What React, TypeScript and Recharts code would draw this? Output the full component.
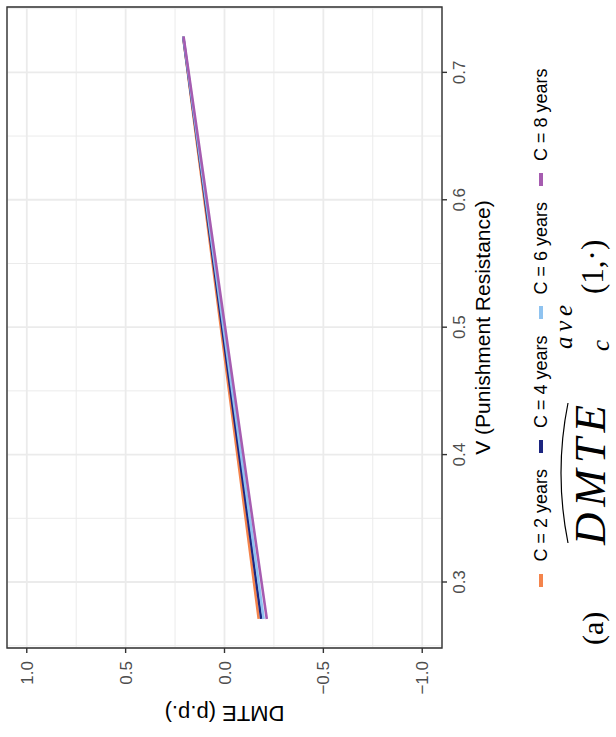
import { LineChart, Line, XAxis, YAxis, CartesianGrid, ReferenceArea } from "recharts";

// values (the figure is printed rotated 90° counter-clockwise)
const V = [0.271, 0.35, 0.45, 0.55, 0.65, 0.728];
const C2 = [-0.173, -0.107, -0.023, 0.06, 0.144, 0.209];
const C4 = [-0.186, -0.118, -0.031, 0.055, 0.141, 0.209];
const C6 = [-0.198, -0.128, -0.039, 0.05, 0.139, 0.208];
const C8 = [-0.214, -0.141, -0.049, 0.043, 0.135, 0.207];

const X_TICKS = [0.3, 0.4, 0.5, 0.6, 0.7];
const X_MINOR = [0.25, 0.35, 0.45, 0.55, 0.65, 0.75];
const Y_TICKS = [-1, -0.5, 0, 0.5, 1];
const Y_MINOR = [-0.75, -0.25, 0.25, 0.75];
const X_DOMAIN: [number, number] = [0.2482, 0.7513];
const Y_DOMAIN: [number, number] = [-1.1, 1.1];

const SERIES = [
  { key: "c2", name: "C = 2 years", color: "#f4844c" },
  { key: "c4", name: "C = 4 years", color: "#1c2580" },
  { key: "c6", name: "C = 6 years", color: "#8fc3f0" },
  { key: "c8", name: "C = 8 years", color: "#a65cb0" },
];

const data = V.map((v, i) => ({ v, c2: C2[i], c4: C4[i], c6: C6[i], c8: C8[i] }));

const W = 737;
const H = 616;
const SANS = '"Liberation Sans", Arial, sans-serif';
const SERIF = '"Liberation Serif", "DejaVu Serif", serif';
const fmt = (v: number) => (v < 0 ? "\u2212" : "") + Math.abs(v).toFixed(1);

// subfigure caption "(a) DMTE-hat ^ave _c (1, ·)"
function Caption() {
  return (
    <svg width={440} height={90} style={{ position: "absolute", left: 88, top: 536, overflow: "visible" }}>
      <g fontFamily={SERIF} fill="#000">
        <text x={4} y={67} fontSize={30}>(a)</text>
        <text x={104} y={69} fontSize={45} fontStyle="italic" textLength={140} lengthAdjust="spacing">
          DMTE
        </text>
        <path d="M106 32 Q 176 18 246 32" stroke="#000" strokeWidth={1.2} fill="none" />
        <text x={300} y={36} fontSize={25} fontStyle="italic" textLength={44} lengthAdjust="spacing">
          ave
        </text>
        <text x={298} y={73} fontSize={25} fontStyle="italic">c</text>
        <text x={355} y={67} fontSize={31}>(1,·)</text>
      </g>
    </svg>
  );
}

function Legend() {
  return (
    <div
      style={{
        position: "absolute",
        left: 89,
        width: 641,
        top: 530,
        display: "flex",
        justifyContent: "center",
        fontFamily: SANS,
        fontSize: 18,
        lineHeight: "22px",
      }}
    >
      {SERIES.map((s, i) => (
        <div key={s.key} style={{ display: "flex", alignItems: "center", marginLeft: i ? 16 : 0 }}>
          <span style={{ width: 13, height: 3.5, background: s.color, marginRight: 12 }} />
          <span>{s.name}</span>
        </div>
      ))}
    </div>
  );
}

export default function App() {
  return (
    <div style={{ position: "fixed", left: 0, top: 0, width: 616, height: 737, background: "#fff", overflow: "hidden" }}>
      <div
        style={{
          position: "absolute",
          left: 0,
          top: 0,
          width: W,
          height: H,
          transformOrigin: "0 0",
          transform: `translateY(${W}px) rotate(-90deg)`,
        }}
      >
        <LineChart width={W} height={H} data={data} margin={{ top: 7, right: 7, bottom: 114, left: 0 }}>
          <CartesianGrid stroke="#ebebeb" strokeWidth={1} horizontalValues={Y_MINOR} verticalValues={X_MINOR} />
          <CartesianGrid stroke="#ebebeb" strokeWidth={1.8} />
          <XAxis
            dataKey="v"
            type="number"
            domain={X_DOMAIN}
            ticks={X_TICKS}
            allowDataOverflow
            tickFormatter={fmt}
            height={60}
            axisLine={false}
            tickSize={5}
            tickMargin={6}
            tickLine={{ stroke: "#333", strokeWidth: 1.4 }}
            tick={{ fill: "#4d4d4d", fontSize: 17, fontFamily: SANS }}
            label={{ value: "V (Punishment Resistance)", position: "insideBottom", offset: 12, fill: "#000", fontSize: 21, fontFamily: SANS }}
          />
          <YAxis
            type="number"
            domain={Y_DOMAIN}
            ticks={Y_TICKS}
            allowDataOverflow
            tickFormatter={fmt}
            width={89}
            axisLine={false}
            tickSize={5}
            tickMargin={8}
            tickLine={{ stroke: "#333", strokeWidth: 1.4 }}
            tick={{ fill: "#4d4d4d", fontSize: 17, fontFamily: SANS }}
            label={{
              value: "DMTE (p.p.)",
              angle: -90,
              position: "insideLeft",
              offset: 23,
              fill: "#000",
              fontSize: 22,
              fontFamily: SANS,
              style: { textAnchor: "middle" },
            }}
          />
          {SERIES.map((s) => (
            <Line
              key={s.key}
              dataKey={s.key}
              name={s.name}
              stroke={s.color}
              strokeWidth={2.6}
              dot={false}
              type="linear"
              isAnimationActive={false}
            />
          ))}
          <ReferenceArea
            x1={X_DOMAIN[0]}
            x2={X_DOMAIN[1]}
            y1={Y_DOMAIN[0]}
            y2={Y_DOMAIN[1]}
            fill="none"
            stroke="#333"
            strokeWidth={1.4}
            ifOverflow="visible"
          />
        </LineChart>
        <Legend />
        <Caption />
      </div>
    </div>
  );
}
